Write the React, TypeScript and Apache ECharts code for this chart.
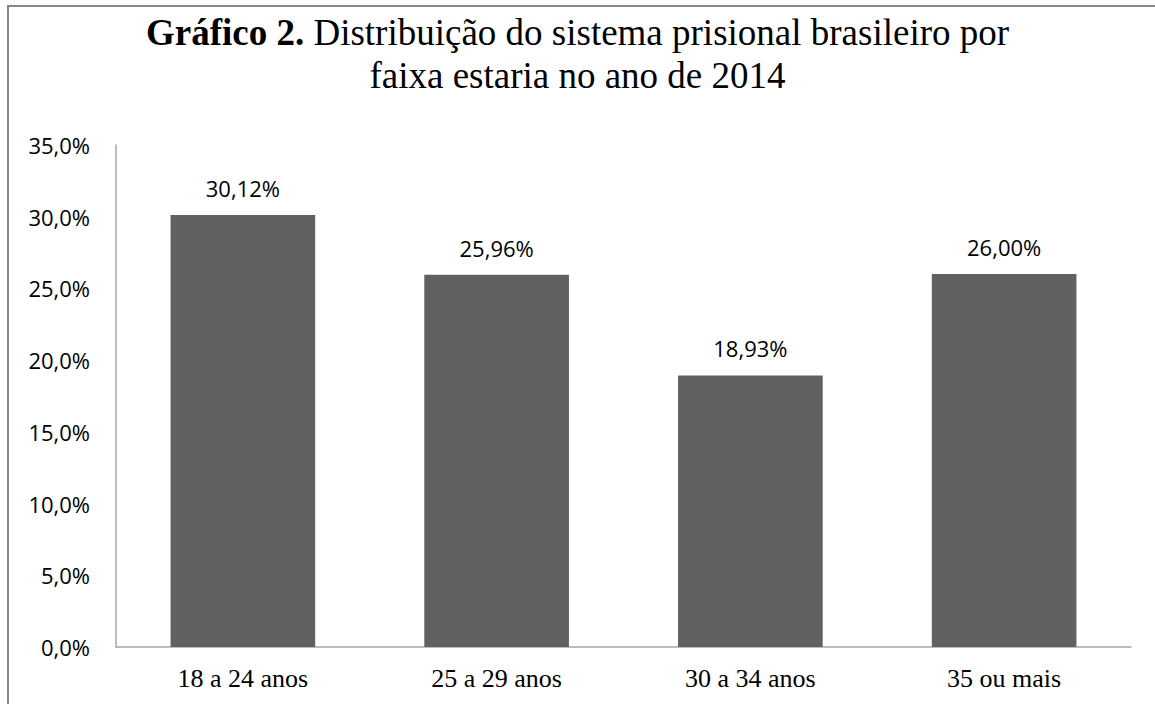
import React, { useEffect, useRef } from "react";
import * as echarts from "echarts";

const categories = ["18 a 24 anos", "25 a 29 anos", "30 a 34 anos", "35 ou mais"];
const values = [30.12, 25.96, 18.93, 26.0];
const yTicks = { min: 0, max: 35, interval: 5 };

const fmt = (v: number, d: number) => v.toFixed(d).replace(".", ",");

export default function App() {
  const ref = useRef<HTMLDivElement>(null);
  useEffect(() => {
    document.body.style.margin = "0";
    const chart = echarts.init(ref.current!, undefined, { renderer: "svg" });
    chart.setOption({
      animation: false,
      backgroundColor: "#ffffff",
      title: {
        left: "center",
        top: 11,
        padding: 0,
        text: "{b|Gráfico 2.}{n| Distribuição do sistema prisional brasileiro por}\n{n|faixa estaria no ano de 2014}",
        textStyle: {
          rich: {
            b: { fontFamily: "Liberation Serif", fontWeight: "bold", fontSize: 37, color: "#000", lineHeight: 43 },
            n: { fontFamily: "Liberation Serif", fontWeight: "normal", fontSize: 37, color: "#000", lineHeight: 43 },
          },
        },
      },
      graphic: [
        {
          type: "rect",
          shape: { x: 8, y: 6, width: 1170, height: 720 },
          style: { fill: "none", stroke: "#868686", lineWidth: 2 },
          silent: true,
        },
      ],
      grid: { left: 116, top: 145, right: 24, bottom: 57, containLabel: false },
      xAxis: {
        type: "category",
        data: categories,
        axisLine: { lineStyle: { color: "#a6a6a6", width: 1.5 } },
        axisTick: { show: false },
        axisLabel: { fontFamily: "Liberation Serif", fontSize: 26, color: "#000", margin: 18 },
      },
      yAxis: {
        type: "value",
        min: yTicks.min,
        max: yTicks.max,
        interval: yTicks.interval,
        splitLine: { show: false },
        axisLine: { show: true, lineStyle: { color: "#a6a6a6", width: 1.5 } },
        axisTick: { show: false },
        axisLabel: {
          fontFamily: "Open Sans",
          fontSize: 22,
          color: "#000",
          margin: 26,
          formatter: (v: number) => fmt(v, 1) + "%",
        },
      },
      series: [
        {
          type: "bar",
          data: values,
          barWidth: "57%",
          itemStyle: { color: "#616161" },
          label: {
            show: true,
            position: "top",
            distance: 16,
            fontFamily: "Open Sans",
            fontSize: 22,
            color: "#000",
            formatter: (p: any) => fmt(p.value, 2) + "%",
          },
        },
      ],
    });
    return () => chart.dispose();
  }, []);
  return <div ref={ref} style={{ width: 1155, height: 704 }} />;
}
